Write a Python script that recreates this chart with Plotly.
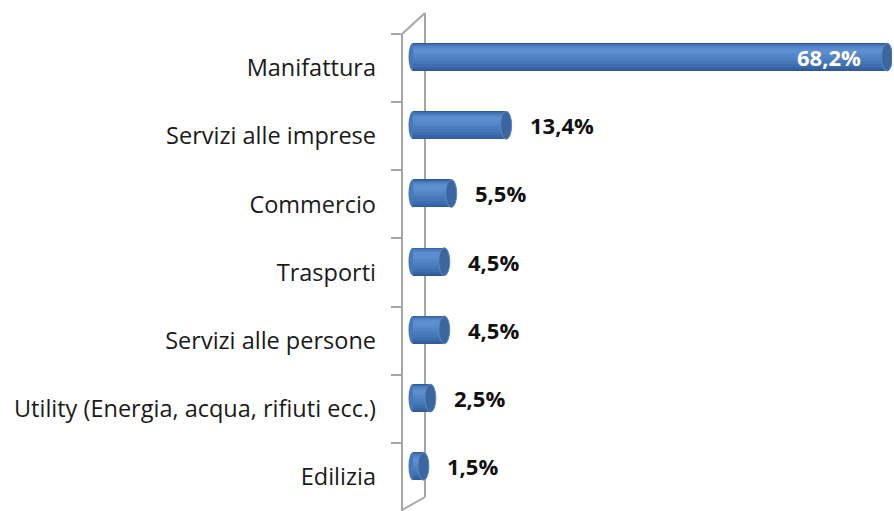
import plotly.graph_objects as go

categories = ["Manifattura", "Servizi alle imprese", "Commercio", "Trasporti",
              "Servizi alle persone", "Utility (Energia, acqua, rifiuti ecc.)", "Edilizia"]
values = [68.2, 13.4, 5.5, 4.5, 4.5, 2.5, 1.5]
value_labels = ["68,2%", "13,4%", "5,5%", "4,5%", "4,5%", "2,5%", "1,5%"]

W, H = 894, 511
L, R = 402, 2
PW = W - L - R
ZERO_PX = 413.0
SCALE = 6.95  # px per unit
XMIN = -(ZERO_PX - L) / SCALE
XMAX = (W - R - ZERO_PX) / SCALE
YR = [6.496, -0.997]

SHIFT = 0.16   # bars sit higher than labels (3D depth)
BW = 0.41      # bar thickness in category units

fig = go.Figure()

idx = list(range(len(categories)))

def add_layer(top_frac, bot_frac, color):
    width = BW * (bot_frac - top_frac)
    offset = -SHIFT - BW / 2 + BW * top_frac
    fig.add_trace(go.Bar(
        y=categories, x=values, orientation="h",
        width=width, offset=offset,
        marker=dict(color=color, line=dict(width=0)),
        hoverinfo="skip", showlegend=False))

bands = [
    (0.00, 1.00, "#2f5b96"),
    (0.02, 0.94, "#3765a3"),
    (0.04, 0.86, "#3e6eae"),
    (0.06, 0.76, "#4576b6"),
    (0.09, 0.64, "#4b7ebf"),
    (0.12, 0.54, "#5284c6"),
    (0.16, 0.44, "#588acb"),
    (0.20, 0.36, "#5d8fcf"),
]
for b in bands:
    add_layer(*b)

shapes = []

def px_x(p):
    return (p - L) / PW

def px_y(p):
    return 1 - p / H

wall = dict(color="#a6a6a6", width=2)
top_front = (-0.5 - YR[1]) / (YR[0] - YR[1]) * H
shapes.append(dict(type="line", xref="paper", yref="paper", layer="below",
                   x0=px_x(402), x1=px_x(402), y0=px_y(top_front), y1=px_y(H + 2), line=wall))
shapes.append(dict(type="line", xref="paper", yref="paper", layer="below",
                   x0=px_x(425), x1=px_x(425), y0=px_y(13), y1=px_y(497), line=wall))
shapes.append(dict(type="line", xref="paper", yref="paper", layer="below",
                   x0=px_x(402), x1=px_x(425), y0=px_y(top_front), y1=px_y(13), line=wall))
shapes.append(dict(type="line", xref="paper", yref="paper", layer="below",
                   x0=px_x(402), x1=px_x(425), y0=px_y(510), y1=px_y(497), line=wall))

cap_hw_left = 4.5 / SCALE
cap_hw_right = 5.5 / SCALE
for i, v in zip(idx, values):
    yc = i - SHIFT
    shapes.append(dict(type="circle", xref="x", yref="y", layer="below",
                       x0=-cap_hw_left, x1=cap_hw_left,
                       y0=yc - BW / 2, y1=yc + BW / 2,
                       fillcolor="#4677b6", line=dict(width=0)))
    shapes.append(dict(type="circle", xref="x", yref="y", layer="above",
                       x0=v - cap_hw_right, x1=v + cap_hw_right,
                       y0=yc - BW / 2, y1=yc + BW / 2,
                       fillcolor="#3b669e", line=dict(color="#5a88c4", width=1)))

annotations = []
for i, v, t in zip(idx, values, value_labels):
    yc = i - SHIFT
    if v > 30:
        annotations.append(dict(x=v, y=yc, xref="x", yref="y", text="<b>%s</b>" % t,
                                showarrow=False, xanchor="right", xshift=-24,
                                font=dict(family="Open Sans", size=22, color="white")))
    else:
        annotations.append(dict(x=v, y=yc, xref="x", yref="y", text="<b>%s</b>" % t,
                                showarrow=False, xanchor="left", xshift=22,
                                font=dict(family="Open Sans", size=22, color="#111111")))

fig.update_layout(
    width=W, height=H,
    margin=dict(l=L, r=R, t=0, b=0, pad=0),
    paper_bgcolor="white", plot_bgcolor="rgba(0,0,0,0)",
    barmode="overlay", bargap=0,
    shapes=shapes, annotations=annotations,
    xaxis=dict(range=[XMIN, XMAX], visible=False, showgrid=False, zeroline=False),
    yaxis=dict(type="category", categoryorder="array", categoryarray=categories,
               range=YR, showline=False, showgrid=False, zeroline=False,
               ticks="outside", tickson="boundaries", ticklen=10, tickwidth=2,
               tickcolor="#a6a6a6", ticklabelstandoff=25,
               tickfont=dict(family="Open Sans", size=23.5, color="#1a1a1a")),
)

fig.write_html("out.html", config={"displayModeBar": False},
               post_script="document.body.style.margin='0';document.body.style.overflow='hidden';")
